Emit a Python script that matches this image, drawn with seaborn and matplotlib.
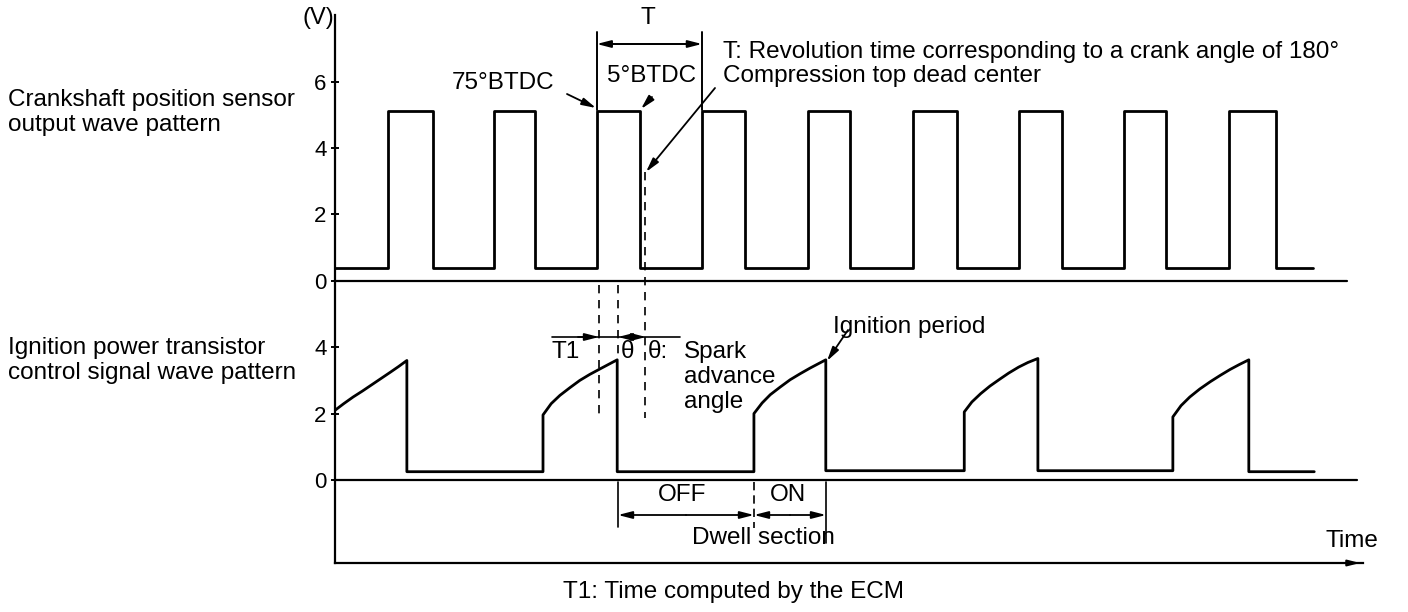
import matplotlib
matplotlib.use("Agg")
import matplotlib.pyplot as plt
import seaborn as sns
import pandas as pd

# ---------------- data (x: crank angle in degrees, y: volts) ----------------
crank_rise_deg = [91, 272, 448, 628, 810, 989, 1171, 1350, 1530]
crank_fall_deg = [168, 342, 522, 702, 881, 1064, 1244, 1422, 1610]
crank_end_deg = 1674
crank_low_v = 0.4
crank_high_v = 5.1

ign_t_deg = [0, 15, 31, 47, 63, 79, 95, 109, 123, 123,
             356, 356, 370, 385, 402, 419, 436, 454, 469, 483, 483,
             717, 717, 731, 745, 762, 779, 796, 813, 827, 840, 840,
             1077, 1077, 1090, 1105, 1121, 1138, 1153, 1170, 1186, 1203, 1203,
             1434, 1434, 1448, 1463, 1480, 1498, 1515, 1532, 1548, 1564, 1564,
             1676]
ign_v = [2.1, 2.3, 2.5, 2.68, 2.87, 3.06, 3.25, 3.42, 3.6, 0.25,
         0.25, 1.96, 2.3, 2.55, 2.78, 3.0, 3.18, 3.35, 3.49, 3.62, 0.25,
         0.25, 2.0, 2.32, 2.57, 2.8, 3.02, 3.2, 3.37, 3.5, 3.62, 0.28,
         0.28, 2.05, 2.35, 2.6, 2.83, 3.04, 3.22, 3.4, 3.54, 3.66, 0.28,
         0.28, 1.9, 2.24, 2.5, 2.74, 2.96, 3.15, 3.33, 3.48, 3.62, 0.25,
         0.25]

panel_offset_v = 6.0
y_tick_pos = [0, 2, 4, 6, 8, 10, 12]
y_tick_labels = ["0", "2", "4", "0", "2", "4", "6"]

# ---------------- figure ----------------
sns.set_theme(style="white")
plt.rcParams["font.family"] = ["Liberation Sans", "DejaVu Sans"]

W, H = 1408, 612
fig = plt.figure(figsize=(W / 100, H / 100), dpi=100)
fig.patch.set_facecolor("white")

AX_L, AX_R, AX_T, AX_B = 335, 1363, 15, 563
ax = fig.add_axes([AX_L / W, (H - AX_B) / H, (AX_R - AX_L) / W, (AX_B - AX_T) / H])
ax.set_facecolor("white")

DEG_PER_PX = 180 / 105.17
V_PER_PX = 1 / 33.2
ax.set_xlim(0, (AX_R - AX_L) * DEG_PER_PX)
ax.set_ylim((480 - AX_B) * V_PER_PX, (480 - AX_T) * V_PER_PX)


def P(px, py):
    """pixel position of the reference -> data position (for annotations)"""
    return ((px - AX_L) * DEG_PER_PX, (480 - py) * V_PER_PX)


# crankshaft sensor square wave
ct, cv = [0], [crank_low_v]
for r, f in zip(crank_rise_deg, crank_fall_deg):
    ct += [r, r, f, f]
    cv += [crank_low_v, crank_high_v, crank_high_v, crank_low_v]
ct.append(crank_end_deg)
cv.append(crank_low_v)
top = pd.DataFrame({"t": ct, "v": [v + panel_offset_v for v in cv]})
sns.lineplot(data=top, x="t", y="v", sort=False, estimator=None,
             color="black", lw=2.0, ax=ax)

# ignition control signal
low = pd.DataFrame({"t": ign_t_deg, "v": ign_v})
sns.lineplot(data=low, x="t", y="v", sort=False, estimator=None,
             color="black", lw=2.0, ax=ax)

# zero baselines
ax.plot([0, P(1347, 0)[0]], [panel_offset_v] * 2, color="black", lw=1.6)
ax.plot([0, P(1357, 0)[0]], [0, 0], color="black", lw=1.6)

# axes styling
sns.despine(ax=ax, top=True, right=True)
for s in ("left", "bottom"):
    ax.spines[s].set_color("black")
    ax.spines[s].set_linewidth(1.6)
ax.set_xticks([])
ax.set_yticks(y_tick_pos)
ax.set_yticklabels(y_tick_labels, fontsize=16)
ax.tick_params(axis="y", direction="inout", length=6, width=1.4, pad=3,
               colors="black", left=True)
ax.set_xlabel("")
ax.set_ylabel("")
ax.grid(False)

# time axis arrow head
ax.annotate("", xy=(ax.get_xlim()[1], ax.get_ylim()[0]),
            xytext=(ax.get_xlim()[1] - 20, ax.get_ylim()[0]),
            arrowprops=dict(arrowstyle="-|>,head_length=0.6,head_width=0.15",
                            color="black", lw=1.4), annotation_clip=False)

FS = 17.5
TK = dict(color="black", fontsize=FS, clip_on=False)


def txt(px, py, s, ha="left", **kw):
    x, y = P(px, py)
    d = dict(TK)
    d.update(kw)
    ax.text(x, y, s, ha=ha, va="center", **d)


def arrow(p_from, p_to, style="-|>,head_length=0.7,head_width=0.18", lw=1.3):
    ax.annotate("", xy=P(*p_to), xytext=P(*p_from),
                arrowprops=dict(arrowstyle=style, color="black", lw=lw,
                                shrinkA=0, shrinkB=0),
                annotation_clip=False)


def seg(p1, p2, ls="-", lw=1.3):
    a, b = P(*p1), P(*p2)
    ax.plot([a[0], b[0]], [a[1], b[1]], color="black", lw=lw, ls=ls,
            clip_on=False)


# texts
txt(318, 18, "(V)", ha="center", fontsize=17)
txt(8, 100, "Crankshaft position sensor")
txt(8, 125, "output wave pattern")
txt(8, 348, "Ignition power transistor")
txt(8, 373, "control signal wave pattern")
txt(648, 18, "T", ha="center")
txt(452, 83, "75°BTDC")
txt(607, 76, "5°BTDC")
txt(723, 52, "T: Revolution time corresponding to a crank angle of 180°")
txt(723, 76, "Compression top dead center")
txt(552, 352, "T1")
txt(627, 352, "θ", ha="center")
txt(648, 352, "θ:")
txt(684, 352, "Spark")
txt(684, 377, "advance")
txt(684, 402, "angle")
txt(833, 327, "Ignition period")
txt(682, 495, "OFF", ha="center")
txt(788, 495, "ON", ha="center")
txt(692, 538, "Dwell section")
txt(1325, 541, "Time")
txt(563, 592, "T1: Time computed by the ECM")

# T dimension
x_r = (crank_rise_deg[2] / DEG_PER_PX) + AX_L
x_n = (crank_rise_deg[3] / DEG_PER_PX) + AX_L
seg((x_r, 32), (x_r, 110), lw=1.4)
seg((x_n, 32), (x_n, 110), lw=1.4)
arrow(((x_r + x_n) / 2, 44), (x_r, 44))
arrow(((x_r + x_n) / 2, 44), (x_n, 44))
seg((x_r + 10, 44), (x_n - 10, 44))

# pointers
arrow((567, 94), (596, 108))
arrow((652, 97), (641, 109))
arrow((715, 88), (646, 172))
arrow((848, 330), (827, 361))

# dashed guide lines
seg((599, 285), (599, 418), ls=(0, (5, 4)), lw=1.2)
seg((618, 285), (618, 357), ls=(0, (5, 4)), lw=1.2)
seg((645, 172), (645, 418), ls=(0, (5, 4)), lw=1.2)

# T1 / theta dimension
seg((552, 337), (680, 337), lw=1.2)
arrow((578, 337), (599, 337))
arrow((632, 337), (618, 337))
arrow((632, 337), (646, 337))

# OFF / ON dwell dimension
seg((618, 482), (618, 527), lw=1.2)
seg((754, 482), (754, 528), ls=(0, (5, 3)), lw=1.2)
seg((826, 482), (826, 543), lw=1.2)
arrow((686, 515), (618, 515))
arrow((686, 515), (754, 515))
arrow((790, 515), (754, 515))
arrow((790, 515), (826, 515))

fig.savefig("out.png", dpi=100, facecolor="white")
